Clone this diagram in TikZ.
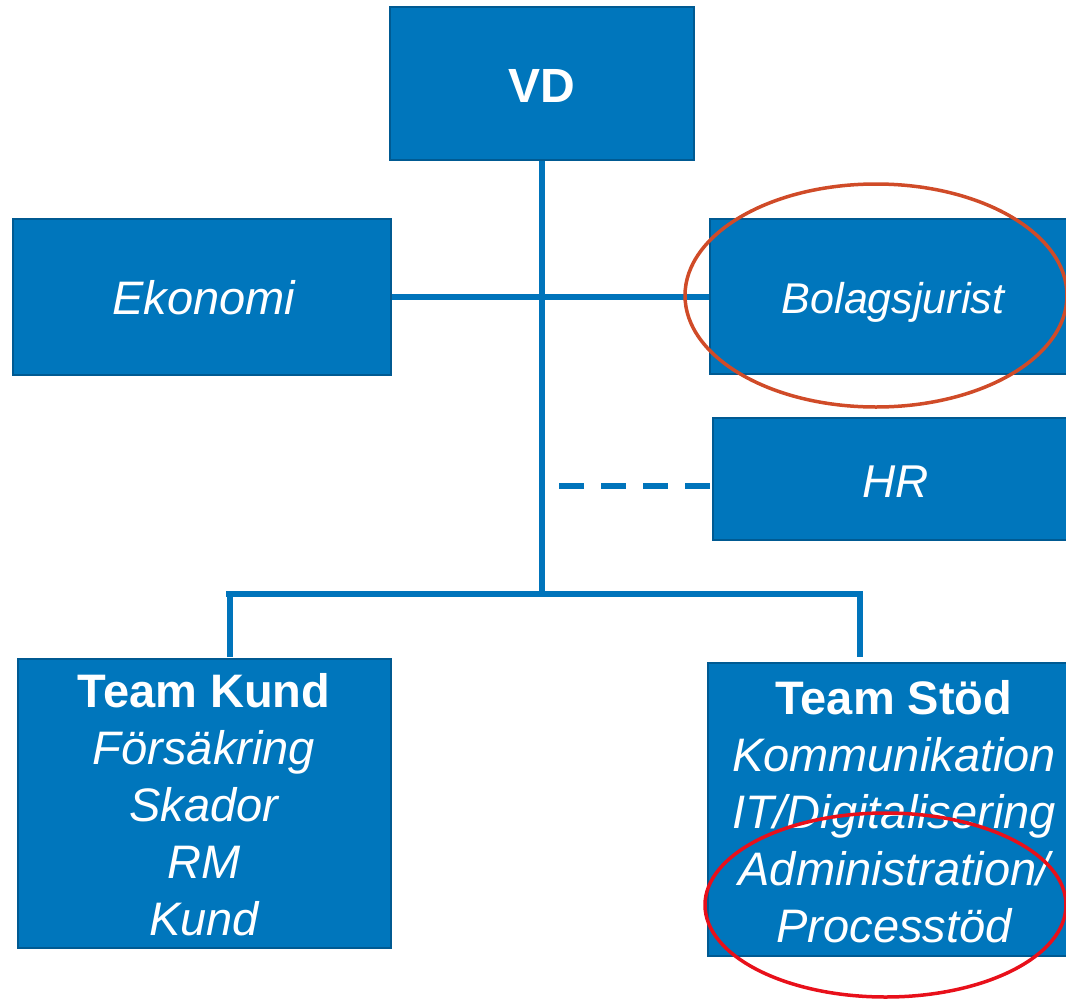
\documentclass[tikz,border=0pt]{standalone}
\usepackage{fontspec}
\setmainfont{Liberation Sans}
\definecolor{boxfill}{HTML}{0076BC}
\definecolor{boxborder}{HTML}{005A92}
\definecolor{linecol}{HTML}{0074BB}
\definecolor{ringorange}{HTML}{D04B28}
\definecolor{ringred}{HTML}{E8101A}
\tikzset{
  orgbox/.style={draw=boxborder, fill=boxfill, line width=2.5pt, inner sep=0pt, minimum width=#1},
  orgbox/.default=300pt,
  lbl/.style={text=white, inner sep=0pt, anchor=base, align=center},
  conn/.style={draw=linecol, line width=6pt, line join=miter},
  dashconn/.style={draw=linecol, line width=6pt, dash pattern=on 25pt off 17pt},
  ring/.style={line width=3.5pt}
}
\begin{document}
\begin{tikzpicture}[x=1pt,y=-1pt]
\useasboundingbox (0,0) rectangle (1066,999);
\clip (0,0) rectangle (1066,999);
\coordinate (junc) at (542,591);
\coordinate (busL) at (226,594);
\coordinate (busR) at (860,594);
\coordinate (kundtop) at (230,657);
\coordinate (stodtop) at (860,657);
\coordinate (dstart) at (559,486);
% boxes
\node[orgbox=304pt, minimum height=153pt] (vd) at (542,83.5) {};
\node[orgbox=378pt, minimum height=156pt] (eko) at (202,297) {};
\node[orgbox=368pt, minimum height=155pt] (bol) at (894,296.5) {};
\node[orgbox=365pt, minimum height=122pt] (hr) at (895.5,479) {};
\node[orgbox=373pt, minimum height=289pt] (kund) at (204.5,803.5) {};
\node[orgbox=373pt, minimum height=293pt] (stod) at (894.5,809.5) {};
% lines
\draw[conn] (vd.south) -- (junc);
\draw[conn] (eko.east) -- (eko.east -| bol.west);
\draw[dashconn] (dstart) -- (dstart -| hr.west);
\draw[conn] (kundtop) -- (kundtop |- busL) -- (busL) -- (busR) -- (stodtop);
\draw[conn] (230,594) -- (kundtop);
% labels (base anchor = baseline of last line)
\node[lbl, font=\fontsize{48}{57}\selectfont\bfseries] (vdt) at (542,102) {VD};
\node[lbl, font=\fontsize{47}{57}\selectfont\itshape] (ekot) at (204,314) {Ekonomi};
\node[lbl, font=\fontsize{43}{57}\selectfont\itshape] (bolt) at (893,313) {Bolagsjurist};
\node[lbl, font=\fontsize{46}{57}\selectfont\itshape] (hrt) at (895.5,497) {HR};
\node[lbl, font=\fontsize{47}{57}\selectfont] (kundt) at (204,935)
  {\bfseries Team Kund\\ \itshape Försäkring\\ \itshape Skador\\ \itshape RM\\ \itshape Kund};
\node[lbl, font=\fontsize{47}{57}\selectfont] (stodt) at (894,942)
  {\bfseries Team Stöd\\ \itshape Kommunikation\\ \itshape IT/Digitalisering\\ \itshape Administration/\\ \itshape Processtöd};
% rings
\draw[ring, ringorange] (876,295.5) ellipse [x radius=191pt, y radius=111.5pt];
\draw[ring, ringred] (885.5,905) ellipse [x radius=180.5pt, y radius=92pt];
\end{tikzpicture}
\end{document}
